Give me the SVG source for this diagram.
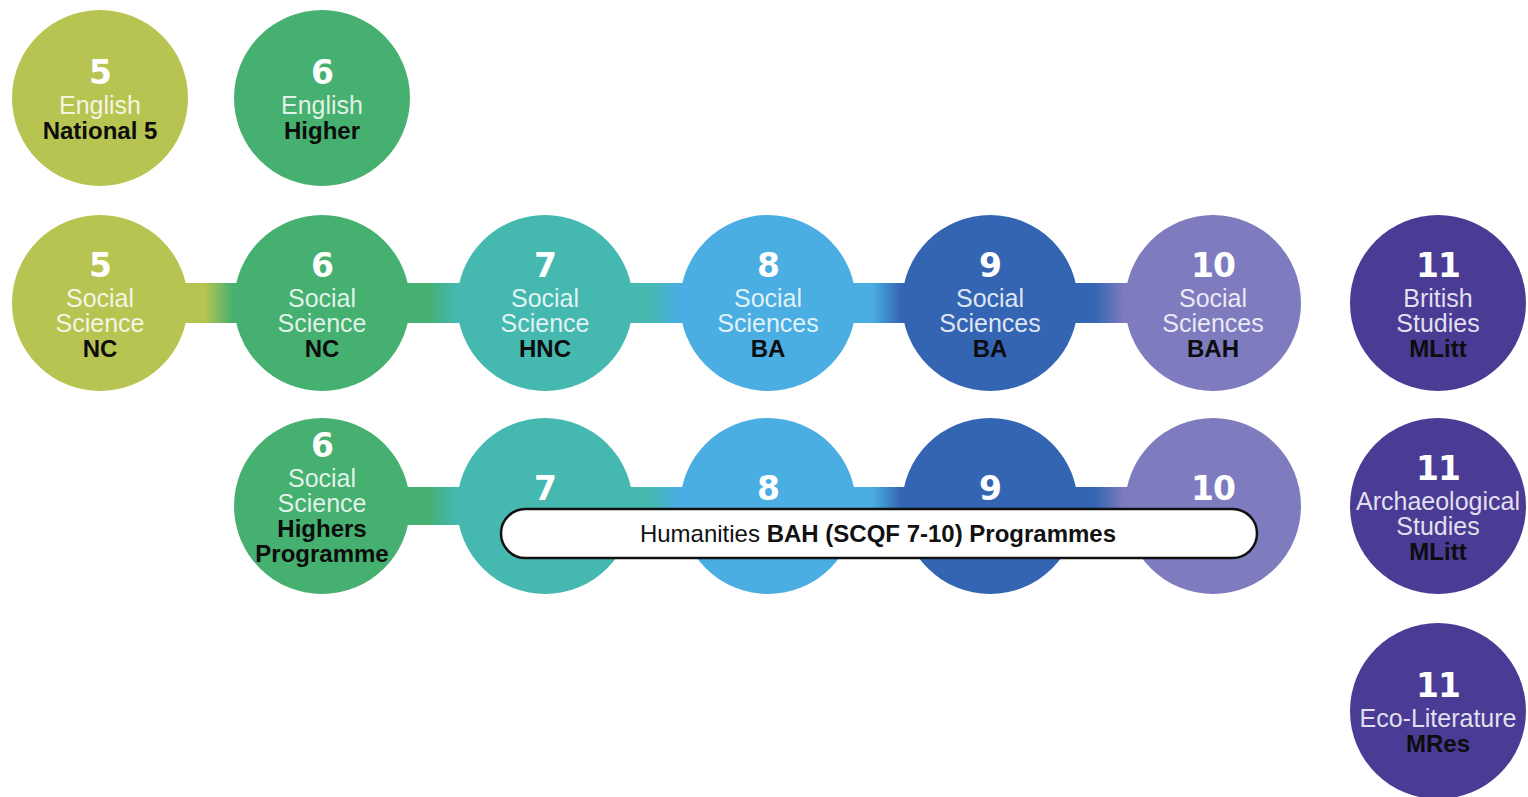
<svg xmlns="http://www.w3.org/2000/svg" width="1528" height="797" viewBox="0 0 1528 797">
<style>
.num{font-family:"DejaVu Sans",sans-serif;font-weight:bold;font-size:33px;fill:#ffffff;text-anchor:middle;letter-spacing:-1px}
.sub{font-family:"Liberation Sans",Arial,sans-serif;font-size:25px;fill:#ffffff;fill-opacity:0.85;text-anchor:middle}
.qual{font-family:"Liberation Sans",Arial,sans-serif;font-weight:bold;font-size:24px;fill:#0d0d0d;text-anchor:middle}
.pill{font-family:"Liberation Sans",Arial,sans-serif;font-size:24px;fill:#111111;text-anchor:middle}
.c5{fill:#b8c452}.c6{fill:#45b06f}.c7{fill:#45b8b0}.c8{fill:#4aaee2}.c9{fill:#3465b3}.c10{fill:#7e7bbf}.c11{fill:#4a3b95}
</style>
<defs>
<linearGradient id="g56" x1="0" y1="0" x2="1" y2="0"><stop offset="0.47" stop-color="#b8c452"/><stop offset="0.6" stop-color="#45b06f"/></linearGradient>
<linearGradient id="g67" x1="0" y1="0" x2="1" y2="0"><stop offset="0.47" stop-color="#45b06f"/><stop offset="0.6" stop-color="#45b8b0"/></linearGradient>
<linearGradient id="g78" x1="0" y1="0" x2="1" y2="0"><stop offset="0.47" stop-color="#45b8b0"/><stop offset="0.6" stop-color="#4aaee2"/></linearGradient>
<linearGradient id="g89" x1="0" y1="0" x2="1" y2="0"><stop offset="0.47" stop-color="#4aaee2"/><stop offset="0.6" stop-color="#3465b3"/></linearGradient>
<linearGradient id="g910" x1="0" y1="0" x2="1" y2="0"><stop offset="0.47" stop-color="#3465b3"/><stop offset="0.6" stop-color="#7e7bbf"/></linearGradient>
</defs>
<rect width="1528" height="797" fill="#ffffff"/>
<g id="connectors">
<rect x="100" y="283" width="222" height="40" fill="url(#g56)"/>
<rect x="322" y="283" width="223" height="40" fill="url(#g67)"/>
<rect x="545" y="283" width="223" height="40" fill="url(#g78)"/>
<rect x="768" y="283" width="222" height="40" fill="url(#g89)"/>
<rect x="990" y="283" width="223" height="40" fill="url(#g910)"/>
<rect x="322" y="487" width="223" height="38" fill="url(#g67)"/>
<rect x="545" y="487" width="223" height="38" fill="url(#g78)"/>
<rect x="768" y="487" width="222" height="38" fill="url(#g89)"/>
<rect x="990" y="487" width="223" height="38" fill="url(#g910)"/>
</g>
<g id="eng5"><circle cx="100" cy="98" r="88" class="c5"/><text x="100" y="84" class="num">5</text><text x="100" y="114" class="sub">English</text><text x="100" y="139" class="qual">National 5</text></g>
<g id="eng6"><circle cx="322" cy="98" r="88" class="c6"/><text x="322" y="84" class="num">6</text><text x="322" y="114" class="sub">English</text><text x="322" y="139" class="qual">Higher</text></g>
<g id="ss5"><circle cx="100" cy="303" r="88" class="c5"/><text x="100" y="277" class="num">5</text><text x="100" y="307" class="sub">Social</text><text x="100" y="332" class="sub">Science</text><text x="100" y="357" class="qual">NC</text></g>
<g id="ss6"><circle cx="322" cy="303" r="88" class="c6"/><text x="322" y="277" class="num">6</text><text x="322" y="307" class="sub">Social</text><text x="322" y="332" class="sub">Science</text><text x="322" y="357" class="qual">NC</text></g>
<g id="ss7"><circle cx="545" cy="303" r="88" class="c7"/><text x="545" y="277" class="num">7</text><text x="545" y="307" class="sub">Social</text><text x="545" y="332" class="sub">Science</text><text x="545" y="357" class="qual">HNC</text></g>
<g id="ss8"><circle cx="768" cy="303" r="88" class="c8"/><text x="768" y="277" class="num">8</text><text x="768" y="307" class="sub">Social</text><text x="768" y="332" class="sub">Sciences</text><text x="768" y="357" class="qual">BA</text></g>
<g id="ss9"><circle cx="990" cy="303" r="88" class="c9"/><text x="990" y="277" class="num">9</text><text x="990" y="307" class="sub">Social</text><text x="990" y="332" class="sub">Sciences</text><text x="990" y="357" class="qual">BA</text></g>
<g id="ss10"><circle cx="1213" cy="303" r="88" class="c10"/><text x="1213" y="277" class="num">10</text><text x="1213" y="307" class="sub">Social</text><text x="1213" y="332" class="sub">Sciences</text><text x="1213" y="357" class="qual">BAH</text></g>
<g id="brit11"><circle cx="1438" cy="303" r="88" class="c11"/><text x="1438" y="277" class="num">11</text><text x="1438" y="307" class="sub">British</text><text x="1438" y="332" class="sub">Studies</text><text x="1438" y="357" class="qual">MLitt</text></g>
<g id="hp6"><circle cx="322" cy="506" r="88" class="c6"/><text x="322" y="457" class="num">6</text><text x="322" y="487" class="sub">Social</text><text x="322" y="512" class="sub">Science</text><text x="322" y="537" class="qual">Highers</text><text x="322" y="562" class="qual">Programme</text></g>
<g id="h7"><circle cx="545" cy="506" r="88" class="c7"/><text x="545" y="500" class="num">7</text></g>
<g id="h8"><circle cx="768" cy="506" r="88" class="c8"/><text x="768" y="500" class="num">8</text></g>
<g id="h9"><circle cx="990" cy="506" r="88" class="c9"/><text x="990" y="500" class="num">9</text></g>
<g id="h10"><circle cx="1213" cy="506" r="88" class="c10"/><text x="1213" y="500" class="num">10</text></g>
<g id="humanities"><rect x="501" y="509" width="756" height="49" rx="24.5" fill="#ffffff" stroke="#111111" stroke-width="2.5"/><text x="878" y="542" class="pill">Humanities <tspan font-weight="bold">BAH (SCQF 7-10) Programmes</tspan></text></g>
<g id="arch11"><circle cx="1438" cy="506" r="88" class="c11"/><text x="1438" y="480" class="num">11</text><text x="1438" y="510" class="sub">Archaeological</text><text x="1438" y="535" class="sub">Studies</text><text x="1438" y="560" class="qual">MLitt</text></g>
<g id="eco11"><circle cx="1438" cy="711" r="88" class="c11"/><text x="1438" y="697" class="num">11</text><text x="1438" y="727" class="sub">Eco-Literature</text><text x="1438" y="752" class="qual">MRes</text></g>
</svg>
